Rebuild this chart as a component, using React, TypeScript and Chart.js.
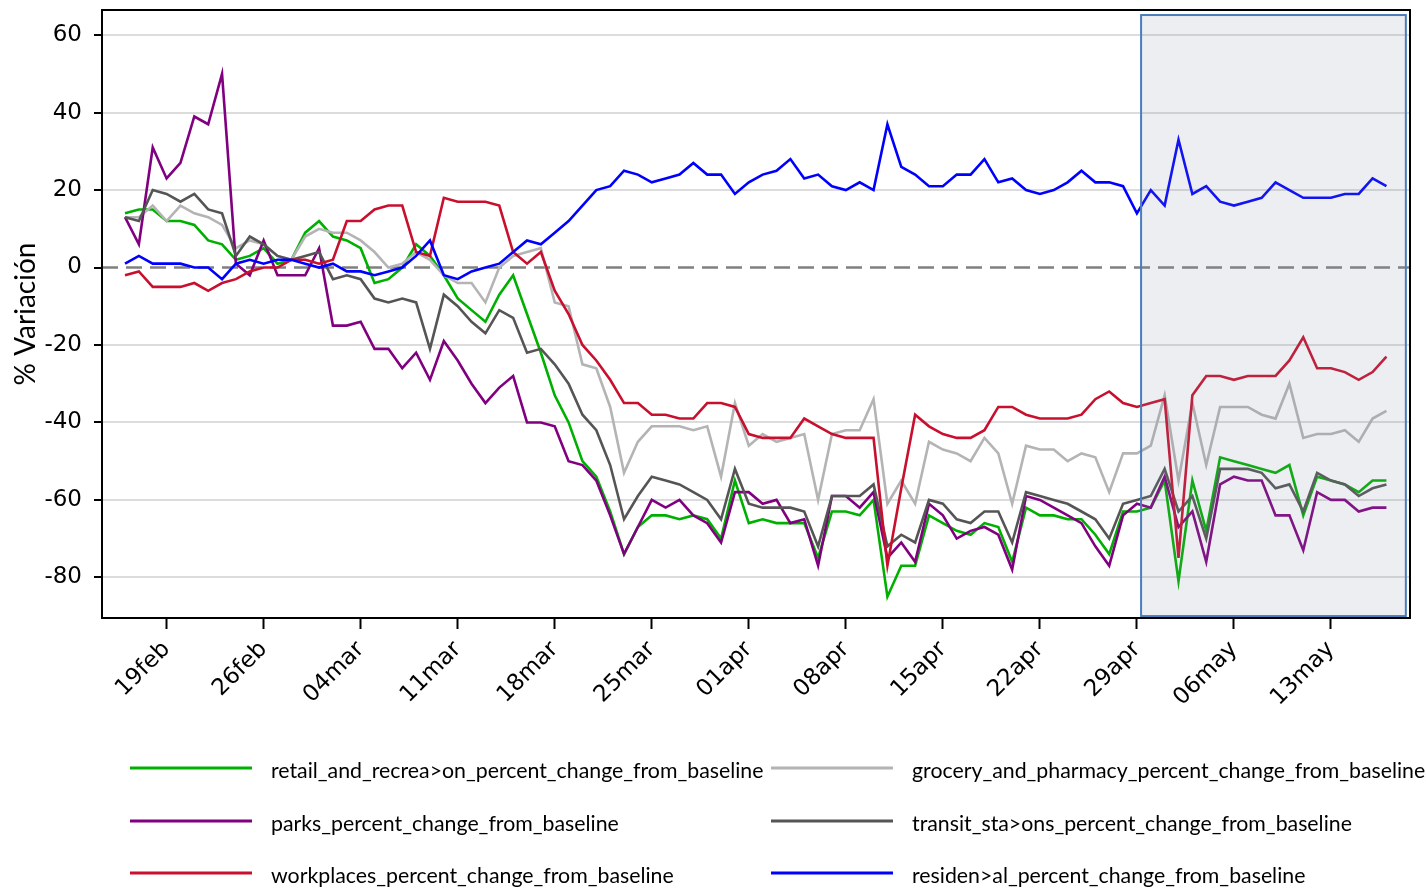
import React, { useEffect, useRef } from 'react';
import { Chart, registerables } from 'chart.js';

Chart.register(...registerables);

// x = day index, 0 = 16feb (2020)
const tickDays = [3, 10, 17, 24, 31, 38, 45, 52, 59, 66, 73, 80, 87];
const tickLabels = ['19feb', '26feb', '04mar', '11mar', '18mar', '25mar', '01apr', '08apr', '15apr', '22apr', '29apr', '06may', '13may'];
const yTicks = [-80, -60, -40, -20, 0, 20, 40, 60];

const retail = [14, 15, 15, 12, 12, 11, 7, 6, 2, 3, 5, 1, 2, 9, 12, 8, 7, 5, -4, -3, 0, 6, 3, -2, -8, -11, -14, -7, -2, -12, -22, -33, -40, -50, -54, -63, -74, -67, -64, -64, -65, -64, -65, -70, -55, -66, -65, -66, -66, -66, -75, -63, -63, -64, -60, -85, -77, -77, -64, -66, -68, -69, -66, -67, -76, -62, -64, -64, -65, -65, -69, -74, -63, -63, -62, -55, -81, -55, -68, -49, -50, -51, -52, -53, -51, -64, -54, -55, -56, -58, -55, -55];
const grocery = [13, 13, 16, 12, 16, 14, 13, 11, 5, 7, 6, 3, 2, 8, 10, 9, 9, 7, 4, 0, 1, 4, 2, -2, -4, -4, -9, 0, 3, 4, 5, -9, -10, -25, -26, -36, -53, -45, -41, -41, -41, -42, -41, -54, -35, -46, -43, -45, -44, -43, -60, -43, -42, -42, -34, -61, -55, -61, -45, -47, -48, -50, -44, -48, -61, -46, -47, -47, -50, -48, -49, -58, -48, -48, -46, -33, -55, -35, -51, -36, -36, -36, -38, -39, -30, -44, -43, -43, -42, -45, -39, -37];
const parks = [13, 6, 31, 23, 27, 39, 37, 50, 1, -2, 7, -2, -2, -2, 5, -15, -15, -14, -21, -21, -26, -22, -29, -19, -24, -30, -35, -31, -28, -40, -40, -41, -50, -51, -55, -64, -74, -67, -60, -62, -60, -64, -66, -71, -58, -58, -61, -60, -66, -65, -77, -59, -59, -62, -58, -75, -71, -76, -61, -64, -70, -68, -67, -69, -78, -59, -60, -62, -64, -66, -72, -77, -64, -61, -62, -54, -67, -63, -76, -56, -54, -55, -55, -64, -64, -73, -58, -60, -60, -63, -62, -62];
const transit = [13, 12, 20, 19, 17, 19, 15, 14, 3, 8, 6, 3, 2, 3, 4, -3, -2, -3, -8, -9, -8, -9, -21, -7, -10, -14, -17, -11, -13, -22, -21, -25, -30, -38, -42, -51, -65, -59, -54, -55, -56, -58, -60, -65, -52, -61, -62, -62, -62, -63, -72, -59, -59, -59, -56, -72, -69, -71, -60, -61, -65, -66, -63, -63, -71, -58, -59, -60, -61, -63, -65, -70, -61, -60, -59, -52, -63, -59, -70, -52, -52, -52, -53, -57, -56, -63, -53, -55, -56, -59, -57, -56];
const workplaces = [-2, -1, -5, -5, -5, -4, -6, -4, -3, -1, 0, 0, 2, 2, 1, 2, 12, 12, 15, 16, 16, 4, 3, 18, 17, 17, 17, 16, 4, 1, 4, -6, -12, -20, -24, -29, -35, -35, -38, -38, -39, -39, -35, -35, -36, -43, -44, -44, -44, -39, -41, -43, -44, -44, -44, -77, -57, -38, -41, -43, -44, -44, -42, -36, -36, -38, -39, -39, -39, -38, -34, -32, -35, -36, -35, -34, -75, -33, -28, -28, -29, -28, -28, -28, -24, -18, -26, -26, -27, -29, -27, -23];
const residential = [1, 3, 1, 1, 1, 0, 0, -3, 1, 2, 1, 2, 2, 1, 0, 1, -1, -1, -2, -1, 0, 3, 7, -2, -3, -1, 0, 1, 4, 7, 6, 9, 12, 16, 20, 21, 25, 24, 22, 23, 24, 27, 24, 24, 19, 22, 24, 25, 28, 23, 24, 21, 20, 22, 20, 37, 26, 24, 21, 21, 24, 24, 28, 22, 23, 20, 19, 20, 22, 25, 22, 22, 21, 14, 20, 16, 33, 19, 21, 17, 16, 17, 18, 22, 20, 18, 18, 18, 19, 19, 23, 21];

const seriesNames = [
  'retail_and_recrea>on_percent_change_from_baseline',
  'grocery_and_pharmacy_percent_change_from_baseline',
  'parks_percent_change_from_baseline',
  'transit_sta>ons_percent_change_from_baseline',
  'workplaces_percent_change_from_baseline',
  'residen>al_percent_change_from_baseline',
];
const seriesValues = [retail, grocery, parks, transit, workplaces, residential];
const seriesColors = ['#00b000', '#b4b4b4', '#800080', '#555555', '#c8102e', '#0000ff'];

// highlighted period (29apr onward)
const highlightFrom = 73.3;
const highlightTo = 92.4;
const highlightTop = 65.2;
const highlightBottom = -90;

const overlayPlugin = {
  id: 'overlay',
  beforeDatasetsDraw(chart: any) {
    const { ctx, chartArea, scales } = chart;
    const yp = scales.y.getPixelForValue(0);
    ctx.save();
    ctx.strokeStyle = '#808080';
    ctx.lineWidth = 2.5;
    ctx.setLineDash([16, 8]);
    ctx.beginPath();
    ctx.moveTo(chartArea.left, yp);
    ctx.lineTo(chartArea.right, yp);
    ctx.stroke();
    ctx.restore();
  },
  afterDatasetsDraw(chart: any) {
    const { ctx, chartArea, scales } = chart;
    const x0 = scales.x.getPixelForValue(highlightFrom);
    const x1 = scales.x.getPixelForValue(highlightTo);
    const y0 = scales.y.getPixelForValue(highlightTop);
    const y1 = scales.y.getPixelForValue(highlightBottom);
    ctx.save();
    ctx.fillStyle = 'rgba(128,142,162,0.15)';
    ctx.fillRect(x0, y0, x1 - x0, y1 - y0);
    ctx.strokeStyle = '#4a7ebb';
    ctx.lineWidth = 2;
    ctx.strokeRect(x0, y0, x1 - x0, y1 - y0);
    ctx.strokeStyle = '#000';
    ctx.lineWidth = 2;
    ctx.strokeRect(chartArea.left, chartArea.top, chartArea.right - chartArea.left, chartArea.bottom - chartArea.top);
    ctx.restore();
  },
  afterDraw(chart: any) {
    const { ctx } = chart;
    const colX = [130, 771];
    const rowY = [768, 821, 873];
    ctx.save();
    ctx.font = '21.3px Lato';
    ctx.textBaseline = 'middle';
    ctx.fillStyle = '#000';
    seriesNames.forEach((name, i) => {
      const cx = colX[i % 2];
      const cy = rowY[Math.floor(i / 2)];
      ctx.strokeStyle = seriesColors[i];
      ctx.lineWidth = 3;
      ctx.beginPath();
      ctx.moveTo(cx, cy);
      ctx.lineTo(cx + 122, cy);
      ctx.stroke();
      ctx.fillText(name, cx + 141, cy + 3);
    });
    ctx.restore();
  },
};

export default function App() {
  const canvasRef = useRef<HTMLCanvasElement | null>(null);

  useEffect(() => {
    if (!canvasRef.current) return;
    const orders = [6, 5, 4, 3, 2, 1];
    const chart = new Chart(canvasRef.current, {
      type: 'line',
      data: {
        datasets: seriesValues.map((vals, s) => ({
          label: seriesNames[s],
          data: vals.map((v, i) => ({ x: i, y: v })),
          borderColor: seriesColors[s],
          backgroundColor: seriesColors[s],
          borderWidth: 2.6,
          pointRadius: 0,
          tension: 0,
          fill: false,
          order: orders[s],
        })),
      },
      options: {
        animation: false,
        responsive: false,
        maintainAspectRatio: false,
        layout: { padding: { top: 10, right: 16, left: 0, bottom: 0 } },
        plugins: { legend: { display: false }, tooltip: { enabled: false } },
        scales: {
          x: {
            type: 'linear',
            min: -1.66,
            max: 92.7,
            afterBuildTicks: (s: any) => {
              s.ticks = tickDays.map((v) => ({ value: v }));
            },
            afterFit: (s: any) => {
              s.height = 270;
              s.paddingLeft = 0;
              s.paddingRight = 0;
            },
            grid: { drawOnChartArea: false, drawTicks: true, tickLength: 11, tickColor: '#000', tickWidth: 2 },
            border: { display: true, color: '#000', width: 2 },
            ticks: {
              autoSkip: false,
              maxRotation: 45,
              minRotation: 45,
              padding: 7,
              color: '#000',
              font: { family: 'DejaVu Sans', size: 23 },
              callback: (v: any) => {
                const k = tickDays.indexOf(Number(v));
                return k >= 0 ? tickLabels[k] : '';
              },
            },
          },
          y: {
            type: 'linear',
            min: -90.5,
            max: 66.5,
            afterBuildTicks: (s: any) => {
              s.ticks = yTicks.map((v) => ({ value: v }));
            },
            afterFit: (s: any) => {
              s.width = 102;
              s.paddingTop = 0;
              s.paddingBottom = 0;
            },
            grid: {
              color: (c: any) => (c.tick && c.tick.value === 0 ? 'rgba(0,0,0,0)' : '#dcdcdc'),
              lineWidth: 2,
              drawTicks: true,
              tickLength: 8,
              tickColor: '#000',
              tickWidth: 2,
            },
            border: { display: true, color: '#000', width: 2 },
            ticks: {
              padding: 12,
              color: '#000',
              font: { family: 'DejaVu Sans', size: 23 },
            },
            title: {
              display: true,
              text: '% Variación',
              color: '#000',
              font: { family: 'Lato', size: 28 },
              padding: { top: 9, bottom: 0 },
            },
          },
        },
      },
      plugins: [overlayPlugin],
    });
    return () => chart.destroy();
  }, []);

  return (
    <div style={{ position: 'fixed', left: 0, top: 0, width: 1426, height: 888, background: '#fff' }}>
      <canvas ref={canvasRef} width={1426} height={888} style={{ display: 'block', width: 1426, height: 888 }} />
    </div>
  );
}
